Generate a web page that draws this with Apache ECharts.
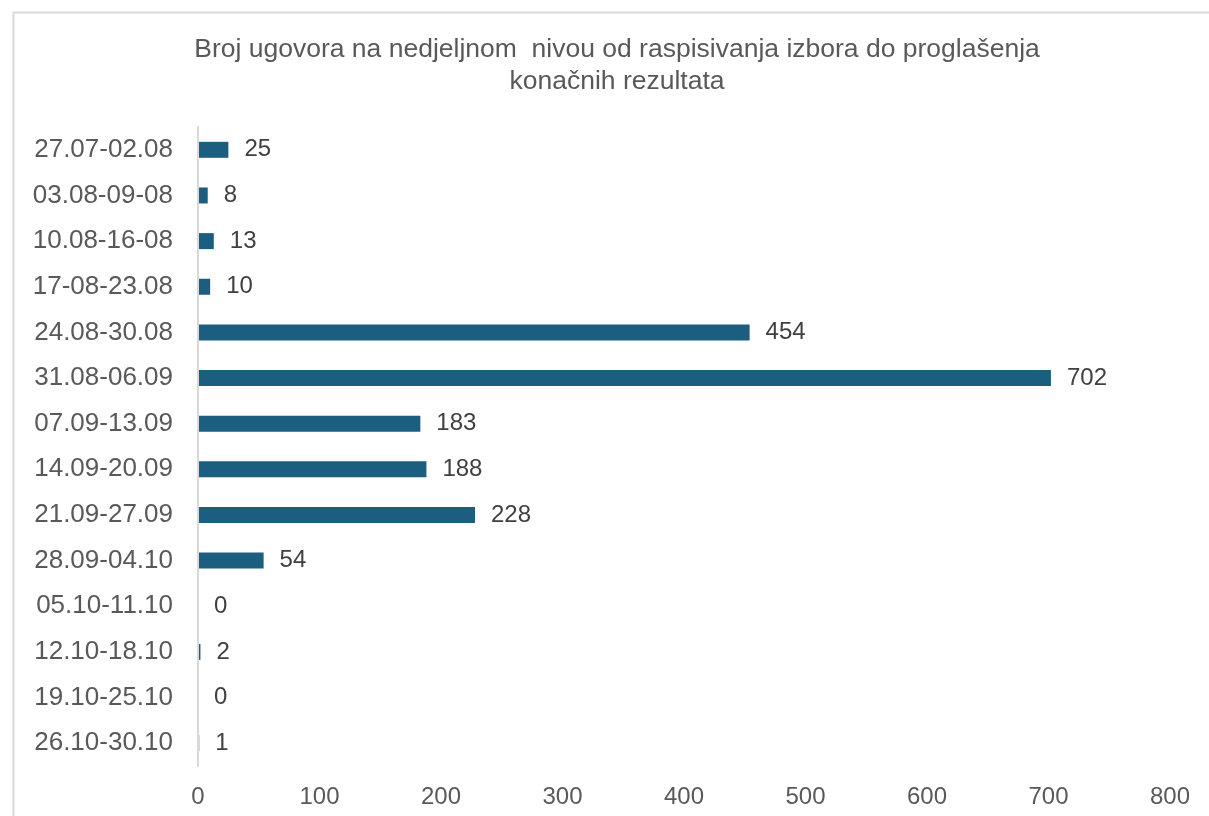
<!DOCTYPE html>
<html>
<head>
<meta charset="utf-8">
<script src="https://cdn.jsdelivr.net/npm/echarts@6/dist/echarts.min.js"></script>
<style>
html,body{margin:0;padding:0;background:#fff;}
#chart{width:1209px;height:816px;}
</style>
</head>
<body>
<div id="chart"></div>
<script>
const titleText = 'Broj ugovora na nedjeljnom  nivou od raspisivanja izbora do proglašenja\nkonačnih rezultata';
const categories = ['27.07-02.08','03.08-09-08','10.08-16-08','17-08-23.08','24.08-30.08','31.08-06.09','07.09-13.09','14.09-20.09','21.09-27.09','28.09-04.10','05.10-11.10','12.10-18.10','19.10-25.10','26.10-30.10'];
const values = [25, 8, 13, 10, 454, 702, 183, 188, 228, 54, 0, 2, 0, 1];
const xTicks = [0, 100, 200, 300, 400, 500, 600, 700, 800];

const chart = echarts.init(document.getElementById('chart'), null, {renderer: 'canvas'});
const font = 'Liberation Sans, Arial, sans-serif';
chart.setOption({
  animation: false,
  backgroundColor: '#fff',
  graphic: [{
    type: 'rect', left: 11, top: 10, z: -1,
    shape: {width: 1400, height: 1000},
    style: {fill: 'none', stroke: '#d9d9d9', lineWidth: 2}
  }, {
    type: 'text', x: 617, y: 34, z: 10,
    style: {
      text: titleText, fontFamily: font, fontSize: 26.5, fill: '#595959',
      lineHeight: 32, align: 'center', verticalAlign: 'top'
    }
  }],
  grid: {left: 198, right: 39, top: 127, bottom: 50, containLabel: false},
  xAxis: {
    type: 'value', min: xTicks[0], max: xTicks[xTicks.length - 1], interval: 100,
    axisLine: {show: false}, axisTick: {show: false}, splitLine: {show: false},
    axisLabel: {fontFamily: font, fontSize: 24, color: '#595959', margin: 19,
      formatter: v => xTicks.includes(v) ? String(v) : ''}
  },
  yAxis: {
    type: 'category', data: categories, inverse: true, z: 5,
    axisLine: {show: true, lineStyle: {color: '#d9d9d9', width: 2}},
    axisTick: {show: false},
    axisLabel: {fontFamily: font, fontSize: 26, color: '#595959', margin: 25}
  },
  series: [{
    type: 'bar', data: values, barWidth: 16,
    itemStyle: {color: '#1b5e80'},
    label: {show: true, position: 'right', distance: 16, fontFamily: font, fontSize: 24, color: '#404040'}
  }]
});
</script>
</body>
</html>
